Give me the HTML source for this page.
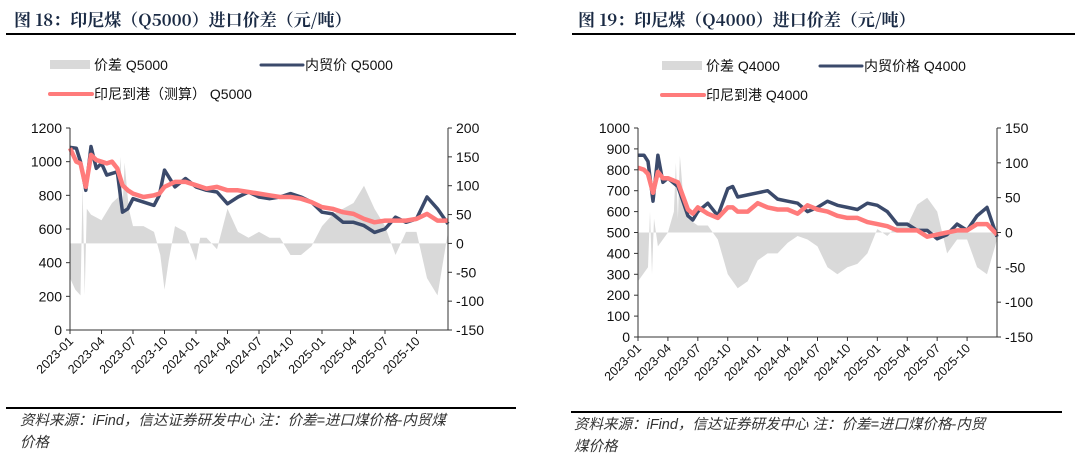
<!DOCTYPE html>
<html><head><meta charset="utf-8">
<style>
body{margin:0;width:1080px;height:464px;background:#fff;overflow:hidden;font-family:"Liberation Sans","Noto Sans CJK SC",sans-serif;}
svg{position:absolute;left:0;top:0}
</style></head>
<body>
<svg id="s" width="1080" height="464" xmlns="http://www.w3.org/2000/svg"></svg>
<script>
const months1=[0,0.6,1,1.5,2,2.5,3,3.5,4,4.5,5,5.5,6,7,8,8.5,9,10,11,12,13,14,15,16,17,18,19,20,21,22,23,24,25,26,27,28,29,30,31,32,33,34,35,36];
const domestic1=[1085,1080,1000,830,1090,960,990,920,930,940,700,720,780,760,740,800,950,850,900,850,830,820,750,790,820,790,780,790,810,790,760,700,690,640,640,620,580,600,670,640,660,790,720,630];
const indo1=[1080,1000,990,850,1040,1010,1000,990,1000,960,860,830,810,790,800,810,850,880,880,860,840,850,830,830,820,810,800,790,790,780,760,730,720,700,690,660,640,650,650,650,660,690,650,650];
const dmonths1=[0,0.5,1,1.2,1.4,1.6,2,3,4,4.6,4.8,5,5.2,5.6,6,7,8,8.6,9,9.4,10,11,12,12.4,13,14,15,16,17,18,19,20,21,22,23,24,25,26,27,28,29,30,31,32,33,34,35,36];
const diff1=[-60,-80,-90,100,-90,60,50,40,70,80,150,60,140,60,30,30,20,-20,-80,-30,30,20,-30,10,10,-10,60,20,10,20,10,10,-20,-20,-5,30,50,60,70,100,60,30,-20,20,20,-60,-90,20];
const months2=[0,0.6,1,1.5,2,2.5,3,4,5,5.5,6,7,8,9,9.5,10,11,12,13,14,15,16,17,18,19,20,21,22,23,24,25,26,27,28,29,30,31,32,33,34,35,36];
const domestic2=[870,870,840,650,870,740,760,720,580,560,600,640,580,710,720,670,680,690,700,660,650,640,600,620,650,630,620,610,640,630,600,540,540,510,510,470,490,540,510,580,620,480];
const indo2=[810,800,780,690,790,760,760,740,610,590,620,590,570,620,620,600,600,640,620,610,610,590,630,610,600,580,570,570,550,540,530,510,510,510,480,490,500,510,510,540,540,490];
const dmonths2=[0,1,1.2,1.4,1.6,2,3,3.6,3.8,4,4.2,4.6,5,6,7,8,9,10,11,12,13,14,15,16,17,18,19,20,21,22,23,24,25,26,27,28,29,30,31,32,33,34,35,36];
const diff2=[-70,-50,30,-60,20,-20,0,30,100,20,110,40,20,10,10,-10,-60,-80,-70,-40,-30,-30,-15,-5,-10,-20,-50,-60,-50,-45,-30,5,-5,10,10,40,50,30,-30,-10,-10,-50,-60,-10];
const tickLabels=["2023-01","2023-04","2023-07","2023-10","2024-01","2024-04","2024-07","2024-10","2025-01","2025-04","2025-07","2025-10"];
const leftTicks1=[0,200,400,600,800,1000,1200];
const rightTicks1=[-150,-100,-50,0,50,100,150,200];
const leftTicks2=[0,100,200,300,400,500,600,700,800,900,1000];
const rightTicks2=[-150,-100,-50,0,50,100,150];

const S=document.getElementById('s');
const NS='http://www.w3.org/2000/svg';
function mk(tag,attrs,parent,text){const e=document.createElementNS(NS,tag);for(const k in attrs)e.setAttribute(k,attrs[k]);if(text!=null)e.textContent=text;(parent||S).appendChild(e);return e;}

function chart(cfg){
  const g=mk('g',{});
  
  
  const {x0,x1,y0,y1,lmax,rmin,rmax}=cfg;
  const X=m=>x0+m/36*(x1-x0);
  const YL=v=>y1-v/lmax*(y1-y0);
  const YR=v=>y1-(v-rmin)/(rmax-rmin)*(y1-y0);
  let d='M'+X(cfg.dm[0])+','+YR(0);
  cfg.dm.forEach((m,i)=>{d+=' L'+X(m).toFixed(1)+','+YR(cfg.diff[i]).toFixed(1);});
  d+=' L'+X(cfg.dm[cfg.dm.length-1])+','+YR(0)+' Z';
  const a=mk('path',{d:d,fill:'#d9d9d9'},g);
  
  
  const line=(ms,vals,col,w,name)=>{
    const p=mk('path',{d:ms.map((m,i)=>(i?'L':'M')+X(m).toFixed(1)+','+YL(vals[i]).toFixed(1)).join(' '),fill:'none',stroke:col,'stroke-width':w,'stroke-linejoin':'round'},g);
    
    
  };
  line(cfg.m,cfg.dom,'#3b4a6b',3.5,'domestic-price-line');
  line(cfg.m,cfg.indo,'#ff7b7b',4.5,'indonesia-price-line');
  mk('line',{x1:x0,y1:y0,x2:x0,y2:y1,stroke:'#333','stroke-width':1},g);
  mk('line',{x1:x1,y1:y0,x2:x1,y2:y1,stroke:'#333','stroke-width':1},g);
  mk('line',{x1:x0,y1:y1,x2:x1,y2:y1,stroke:'#333','stroke-width':1},g);
  cfg.lt.forEach(v=>{const y=YL(v);mk('line',{x1:x0-4,y1:y,x2:x0,y2:y,stroke:'#333'},g);
    const t=mk('text',{x:x0-8,y:y+5,'text-anchor':'end','font-size':14,fill:'#111'},g,v);
    
    });
  cfg.rt.forEach(v=>{const y=YR(v);mk('line',{x1:x1,y1:y,x2:x1+4,y2:y,stroke:'#333'},g);
    const t=mk('text',{x:x1+8,y:y+5,'text-anchor':'start','font-size':14,fill:'#111'},g,v);
    
    });
  tickLabels.forEach((lab,i)=>{const x=X(i*3);mk('line',{x1:x,y1:y1,x2:x,y2:y1+4,stroke:'#333'},g);
    const t=mk('text',{x:x+4,y:y1+12,'text-anchor':'end','font-size':12.5,fill:'#111',transform:`rotate(-45 ${x+4} ${y1+12})`},g,lab);
    
    });
}
chart({name:'chart-q5000',x0:70,x1:448,y0:128,y1:330,lmax:1200,rmin:-150,rmax:200,m:months1,dom:domestic1,indo:indo1,dm:dmonths1,diff:diff1,lt:leftTicks1,rt:rightTicks1});
chart({name:'chart-q4000',x0:638,x1:997,y0:128,y1:337,lmax:1000,rmin:-150,rmax:150,m:months2,dom:domestic2,indo:indo2,dm:dmonths2,diff:diff2,lt:leftTicks2,rt:rightTicks2});

function txt(x,y,s,size,extra,name){const t=mk('text',Object.assign({x:x,y:y,'font-size':size,fill:'#111'},extra||{}),S,s);
  
  return t;}
txt(14,26,'图 18：印尼煤（Q5000）进口价差（元/吨）',17,{'font-weight':'bold',fill:'#1a2a44','font-family':'"Noto Serif CJK SC","Liberation Sans",serif'},'title-left');
txt(578,26,'图 19：印尼煤（Q4000）进口价差（元/吨）',17,{'font-weight':'bold',fill:'#1a2a44','font-family':'"Noto Serif CJK SC","Liberation Sans",serif'},'title-right');
mk('line',{x1:6,y1:34,x2:516,y2:34,stroke:'#000','stroke-width':2});
mk('line',{x1:572,y1:34,x2:1075,y2:34,stroke:'#000','stroke-width':2});
function leg(x,y,kind,label,name){
  if(kind==='area')mk('rect',{x:x,y:y-5,width:40,height:9,fill:'#d9d9d9'});
  else mk('line',{x1:x,y1:y,x2:x+42,y2:y,stroke:kind,'stroke-width':kind==='#ff7b7b'?4:3,'stroke-linecap':'round'});
  txt(x+44,y+5,label,14,{},name);
}
leg(50,65,'area','价差 Q5000','legend-spread');
leg(261,65,'#3b4a6b','内贸价 Q5000','legend-domestic');
leg(50,94,'#ff7b7b','印尼到港（测算） Q5000','legend-indonesia');
leg(662,66,'area','价差 Q4000','legend-spread-2');
leg(820,66,'#3b4a6b','内贸价格 Q4000','legend-domestic-2');
leg(662,95,'#ff7b7b','印尼到港 Q4000','legend-indonesia-2');
mk('line',{x1:6,y1:408,x2:516,y2:408,stroke:'#000','stroke-width':2});
mk('line',{x1:571,y1:412,x2:1062,y2:412,stroke:'#000','stroke-width':2});
const si={'font-style':'italic',fill:'#333'};
txt(20,425,'资料来源：iFind，信达证券研发中心 注：价差=进口煤价格-内贸煤',14.5,si,'source-left');
txt(20,447,'价格',14.5,si,'source-left-2');
txt(574,429,'资料来源：iFind，信达证券研发中心 注：价差=进口煤价格-内贸',14.5,si,'source-right');
txt(574,451,'煤价格',14.5,si,'source-right-2');
</script>
</body></html>
